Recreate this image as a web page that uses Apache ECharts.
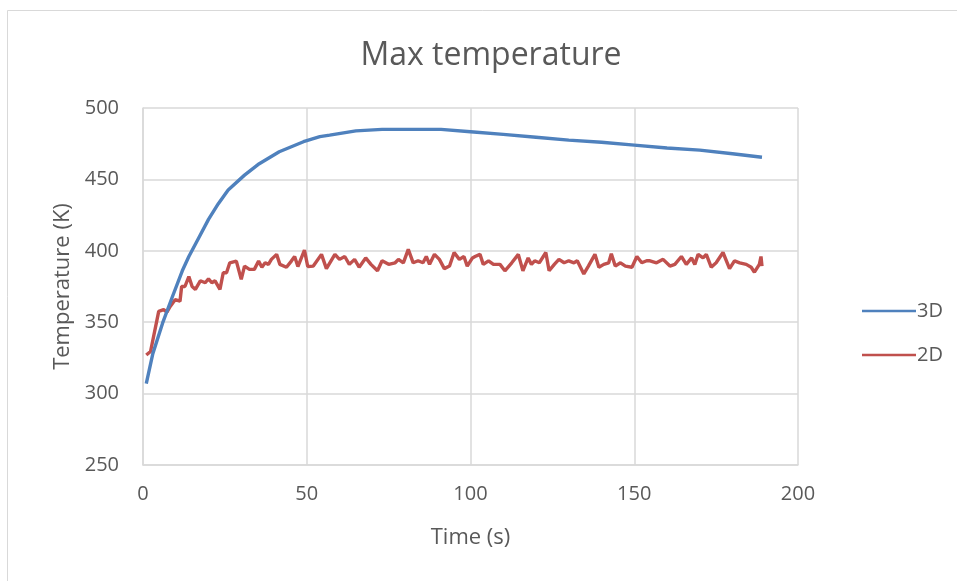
<!DOCTYPE html>
<html><head><meta charset="utf-8">
<script src="https://cdn.jsdelivr.net/npm/echarts@6/dist/echarts.min.js"></script>
<style>html,body{margin:0;padding:0;background:#fff}#c{width:957px;height:581px}</style>
</head><body><div id="c"></div>
<script>
const title = 'Max temperature';
const xName = 'Time (s)';
const yName = 'Temperature (K)';
const seriesNames = ['3D', '2D'];

const t3D = [1, 3, 6, 9, 12, 14, 17, 20, 23, 26, 31, 35.5, 41.6, 49, 54, 57, 65, 73, 91, 100, 110, 120, 130, 140, 150, 160, 170, 180, 189];
const v3D = [307, 328, 349.5, 368, 386, 396, 409, 422, 433, 442.6, 453, 461, 469.4, 476.4, 480, 481, 484, 485, 485, 483.4, 481.5, 479.5, 477.5, 476, 474, 472, 470.5, 468, 465.5];

const t2D = [1, 2.3, 4.8, 6.3, 7.3, 8.3, 9.8, 11.3, 11.8, 12.8, 14, 15, 16, 17.5, 19, 20, 21, 22, 23.5, 24.5, 25.5, 26.5, 28.5, 30, 31, 32.5, 34, 35.3, 36.3, 37.3, 38.3, 39.2, 40.8, 41.8, 43.8, 45.3, 46.3, 47.3, 49.3, 50.3, 52, 54.5, 56, 58.6, 60, 61.6, 63, 64.6, 66, 68, 69.6, 71.6, 73, 75, 77, 78, 79.5, 81, 82.5, 84, 85.5, 86.5, 87.5, 89, 90.5, 92, 93.6, 95, 96.6, 98, 99, 100.6, 101.4, 102.9, 103.9, 105.5, 107, 109, 110.5, 112.6, 114.6, 116, 117.6, 118.6, 119.6, 121, 123, 124, 125.6, 127, 128.6, 130, 131.6, 132.6, 134.6, 136, 138, 139.2, 140.7, 142.2, 143, 144.2, 145.8, 147.3, 149.3, 150.8, 152.3, 153.8, 154.8, 156.8, 158.8, 160.9, 162.4, 164.4, 165.9, 167.5, 168.5, 169.5, 171, 172, 173.5, 175, 177.1, 179.1, 180.6, 182.2, 184.2, 185.7, 186.7, 188.2, 188.7, 189];
const v2D = [327, 329.5, 357.6, 358.8, 357, 361, 365.8, 364.7, 375, 375, 382, 375, 373, 379, 377.6, 380.4, 377.6, 379, 373, 384.6, 384.6, 391.6, 392.8, 380, 389.3, 387, 387, 392.8, 388.5, 391.6, 390.5, 394, 397.5, 390.5, 388.5, 392.8, 396, 389, 400.5, 389, 389.3, 397.5, 387.5, 397.5, 394, 396, 390.5, 394, 388.5, 395, 390.5, 386, 393, 390.5, 391.6, 394, 391.6, 401, 391.6, 393, 391.6, 396, 390.5, 397.5, 394, 387.5, 389.3, 398.8, 394, 396, 389.3, 395, 396, 397.5, 390.5, 393, 390.5, 390.5, 386, 391.6, 397.5, 386, 395, 390.5, 393, 391.6, 398.8, 386, 390.5, 394, 391.6, 393, 391.6, 393, 383.8, 389.3, 397.5, 388.5, 390.5, 391.6, 398, 389.3, 391.6, 389.3, 388.5, 396, 391.6, 393, 393, 391.6, 394, 389.3, 390.5, 396, 390.5, 395, 390.5, 397.5, 395, 397.5, 388.5, 391.6, 398.8, 387.5, 393, 391.6, 390.5, 388.5, 385, 390.5, 396, 389.3];

const xTicks = {min: 0, max: 200, interval: 50};
const yTicks = {min: 250, max: 500, interval: 50};

const font = '"Open Sans", "Noto Sans", sans-serif';
const txt = '#595959';
const gridCol = '#d9d9d9';

const chart = echarts.init(document.getElementById('c'));
chart.setOption({
  animation: false,
  backgroundColor: '#fff',
  graphic: [{type: 'rect', shape: {x: 7.5, y: 10.5, width: 970, height: 600}, style: {fill: 'none', stroke: '#d9d9d9', lineWidth: 1}, silent: true}],
  title: {text: title, left: 486, top: 35, textAlign: 'center',
    textStyle: {fontFamily: font, fontSize: 32, fontWeight: 'normal', color: txt}},
  legend: {orient: 'vertical', left: 857, top: 296, itemGap: 24, itemWidth: 54, itemHeight: 16,
    icon: 'path://M0,7 L54,7 L54,9.5 L0,9.5 Z',
    textStyle: {fontFamily: font, fontSize: 20, color: txt, padding: [0, 0, 0, -4]},
    data: seriesNames},
  grid: {left: 143, right: 159, top: 108, bottom: 116},
  xAxis: {type: 'value', min: xTicks.min, max: xTicks.max, interval: xTicks.interval,
    name: xName, nameLocation: 'middle', nameGap: 62,
    nameTextStyle: {fontFamily: font, fontSize: 22, color: txt},
    axisLine: {show: true, lineStyle: {color: gridCol, width: 1.5}},
    axisTick: {show: false},
    axisLabel: {fontFamily: font, fontSize: 20, color: txt, margin: 19},
    splitLine: {show: true, lineStyle: {color: gridCol, width: 1.5}}},
  yAxis: {type: 'value', min: yTicks.min, max: yTicks.max, interval: yTicks.interval,
    name: yName, nameLocation: 'middle', nameGap: 68, nameRotate: 90,
    nameTextStyle: {fontFamily: font, fontSize: 22, color: txt},
    axisLine: {show: true, lineStyle: {color: gridCol, width: 1.5}},
    axisTick: {show: false},
    axisLabel: {fontFamily: font, fontSize: 20, color: txt, margin: 24},
    splitLine: {show: true, lineStyle: {color: gridCol, width: 1.5}}},
  series: [
    {name: seriesNames[0], type: 'line', showSymbol: false, symbol: 'none',
      data: t3D.map((t, i) => [t, v3D[i]]),
      lineStyle: {color: '#4F81BD', width: 3.4}, itemStyle: {color: '#4F81BD'}, z: 3},
    {name: seriesNames[1], type: 'line', showSymbol: false, symbol: 'none',
      data: t2D.map((t, i) => [t, v2D[i]]),
      lineStyle: {color: '#C0504D', width: 3.4}, itemStyle: {color: '#C0504D'}, z: 2}
  ]
});
</script></body></html>
